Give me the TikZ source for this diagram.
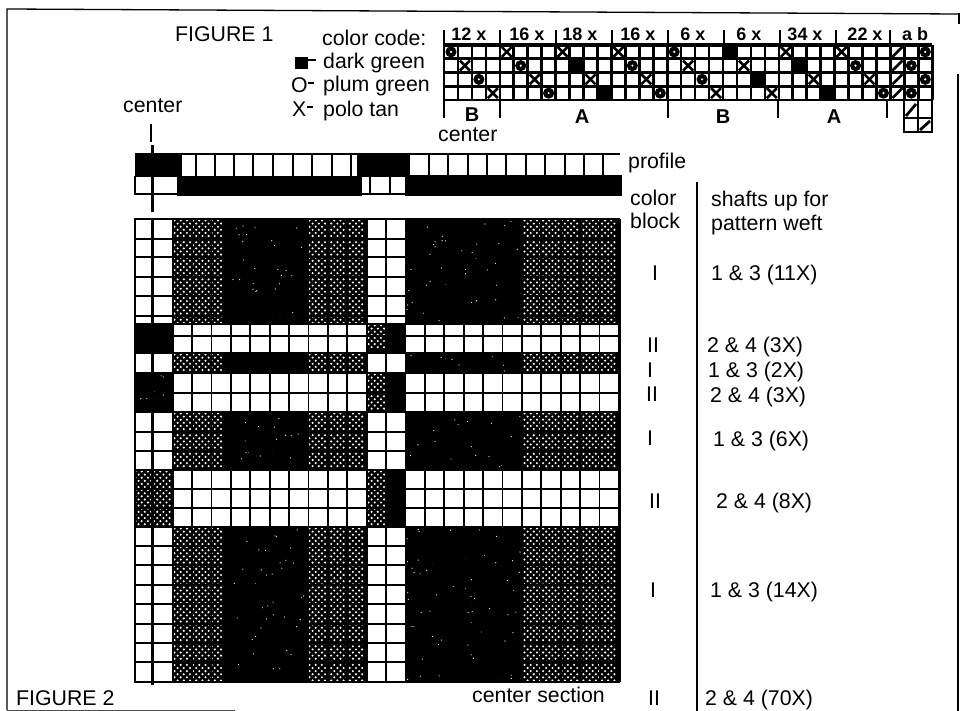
\documentclass[tikz,border=0pt]{standalone}
\usepackage{fontspec}
\setmainfont{Liberation Sans}
\newcommand\chk[4]{%
  \pgfmathsetmacro\xa{#1+1.5}\pgfmathsetmacro\xb{#1+7.7}\pgfmathsetmacro\xe{#3-4}%
  \pgfmathsetmacro\ya{#2+1.5}\pgfmathsetmacro\yb{#2+7.7}\pgfmathsetmacro\ye{#4-4}%
  \foreach\x in{\xa,\xb,...,\xe}{\foreach\y in{\ya,\yb,...,\ye}{%
    \fill[white](\x,\y)circle(1.15)(\x+3.1,\y+3.1)circle(1.15);}}}
\newcommand\specks[5]{%
  \foreach\i in{1,...,#5}{%
    \pgfmathsetmacro\sx{#1+rnd*(#3-#1)}\pgfmathsetmacro\sy{#2+rnd*(#4-#2)}%
    \fill[white](\sx,\sy)circle(.6);}}
\newcommand\cx[1]{444+13.95*(#1-.5)}
\newcommand\cy[1]{45+13.75*(#1-.5)}
\tikzset{
  lbl/.style={anchor=base west,inner sep=0pt,font=\fontsize{21.3}{24}\selectfont},
  smalllbl/.style={anchor=base,inner sep=0pt,font=\bfseries\fontsize{18}{20}\selectfont},
  biglbl/.style={anchor=base,inner sep=0pt,font=\bfseries\fontsize{20}{22}\selectfont},
  gridln/.style={line width=1.8pt,black},
  topgrid/.style={line width=2.6pt,black},
  tick/.style={line width=2.4pt,black},
  frameln/.style={line width=1.3pt,black}
}
\begin{document}
\begin{tikzpicture}[x=1pt,y=-1pt]
\useasboundingbox (0,0) rectangle (966,711);
\fill[white] (0,0) rectangle (966,711);
% frame
\draw[frameln] (7,710) -- (7,9) -- (958,14);
\draw[line width=1.6pt] (959,13) -- (959,24);
\draw[line width=1.4pt] (958,74) -- (958,711);
\draw[line width=.8pt,black!70] (7,710) -- (235,710);
% top draft grid
\fill[black] (444,44) rectangle (890,47);
\foreach \c/\r in {1/1,3/3,6/2,8/4,14/2,16/4,17/1,19/3,30/2,32/4,34/2,34/4,35/1,35/3}{
  \fill[black] ({\cx{\c}},{\cy{\r}}) circle (5.6);
  \fill[white] ({\cx{\c}},{\cy{\r}}) circle (1.2);}
\foreach \c/\r in {10/2,12/4,21/1,23/3,26/2,28/4}{
  \fill[black] ({\cx{\c}-7},{\cy{\r}-6.9}) rectangle ({\cx{\c}+7},{\cy{\r}+6.9});}
\foreach \c/\r in {2/2,4/4,5/1,7/3,9/1,11/3,13/1,15/3,18/2,20/4,22/2,24/4,25/1,27/3,29/1,31/3}{
  \draw[line width=2.6pt] ({\cx{\c}-5},{\cy{\r}-5}) -- ({\cx{\c}+5},{\cy{\r}+5})
    ({\cx{\c}-5},{\cy{\r}+5}) -- ({\cx{\c}+5},{\cy{\r}-5});}
\foreach \r in {1,2,3,4}{
  \draw[line width=2.6pt] ({\cx{33}-5},{\cy{\r}+5}) -- ({\cx{33}+5},{\cy{\r}-5});}
\foreach \n in {0,...,35}{
  \draw[topgrid] ({444+13.95*\n},45) -- ({444+13.95*\n},100);}
\foreach \r in {0,...,4}{
  \draw[topgrid] (444,{45+13.75*\r}) -- (932,{45+13.75*\r});}
\draw[line width=3.4pt] (444,45) -- (932,45);
% tie-up extension
\draw[topgrid] (904,100) rectangle (932,132);
\draw[topgrid] (904,118) -- (932,118) (918,100) -- (918,132);
\draw[line width=2.8pt] (906,116) -- (916,104) (920,130) -- (930,121);
% section ticks
\foreach \x in {444,500,556,612,668,724,780,836,890}{
  \draw[tick] (\x,30) -- (\x,46);}
\foreach \x in {444,500,668,778,887}{
  \draw[tick] (\x,100) -- (\x,118);}
\node[smalllbl] (s1) at (469,41) {12 x};
\node[smalllbl] (s2) at (527,41) {16 x};
\node[smalllbl] (s3) at (580,41) {18 x};
\node[smalllbl] (s4) at (638,41) {16 x};
\node[smalllbl] (s5) at (693,41) {6 x};
\node[smalllbl] (s6) at (749,41) {6 x};
\node[smalllbl] (s7) at (805,41) {34 x};
\node[smalllbl] (s8) at (865,41) {22 x};
\node[smalllbl] (s9) at (915,41) {a b};
\node[biglbl] (b1) at (472,122) {B};
\node[biglbl] (a1) at (582,124) {A};
\node[biglbl] (b2) at (723,124) {B};
\node[biglbl] (a2) at (834,124) {A};
\node[lbl] (c1) at (438,142) {center};
% legend
\node[lbl] (fig1) at (175,42) {FIGURE 1};
\node[lbl] (code) at (322,46) {color code:};
\fill[black] (295,57) rectangle (308,69);
\draw[line width=1.3pt] (308,60) -- (316,60);
\node[lbl] (dg) at (323,69) {dark green};
\node[lbl] (om) at (291,93) {O};
\draw[line width=1.3pt] (308,83) -- (314,83);
\node[lbl] (pg) at (323,92) {plum green};
\node[lbl] (xm) at (292,117) {X};
\draw[line width=1.3pt] (307,107) -- (313,107);
\node[lbl] (pt) at (323,117) {polo tan};
\node[lbl] (c2) at (123,113) {center};
\draw[line width=2.2pt] (151,124) -- (151,142);
% profile
\foreach \x in {196,215,234,253,273,293,312,332,351,429,448,468,487,506,526,545,565,584,603}{
  \draw[gridln] (\x,154) -- (\x,176);}
\draw[gridln] (135,154) -- (620,154);
\draw[gridln] (135,194) -- (622,194);
\draw[gridln] (152,176) -- (152,195) (370,176) -- (370,195) (390,176) -- (390,195) (135,176) -- (135,195);
\fill[black] (135,154) rectangle (182,177);
\fill[black] (357,154) rectangle (410,177);
\fill[black] (177,176) rectangle (362,196);
\fill[black] (405,175) rectangle (622,196);
% pattern blocks
\fill[black] (173,219) rectangle (367,324);
\fill[black] (405,219) rectangle (620,324);
\fill[black] (173,353) rectangle (367,373);
\fill[black] (405,353) rectangle (620,373);
\fill[black] (173,412) rectangle (367,470);
\fill[black] (405,412) rectangle (620,470);
\fill[black] (173,527) rectangle (367,682);
\fill[black] (405,527) rectangle (620,682);
\fill[black] (134,324) rectangle (173,353);
\fill[black] (134,373) rectangle (173,412);
\fill[black] (134,470) rectangle (173,527);
\fill[black] (367,324) rectangle (405,353);
\fill[black] (367,373) rectangle (405,412);
\fill[black] (367,470) rectangle (405,527);
\chk{173}{219}{228}{324}
\chk{308}{219}{367}{324}
\chk{523}{219}{620}{324}
\chk{173}{353}{228}{373}
\chk{308}{353}{367}{373}
\chk{523}{353}{620}{373}
\chk{173}{412}{228}{470}
\chk{308}{412}{367}{470}
\chk{523}{412}{620}{470}
\chk{173}{527}{228}{682}
\chk{308}{527}{367}{682}
\chk{523}{527}{620}{682}
\chk{134}{470}{173}{527}
\chk{367}{470}{386}{527}
\chk{367}{373}{386}{412}
\chk{367}{324}{386}{353}
\pgfmathsetseed{11}
\specks{230}{221}{306}{322}{28}
\specks{407}{221}{521}{322}{40}
\specks{230}{414}{306}{468}{16}
\specks{407}{414}{521}{468}{22}
\specks{230}{529}{306}{680}{45}
\specks{407}{529}{521}{680}{60}
\specks{136}{375}{171}{410}{8}
\specks{407}{355}{521}{371}{8}
% pattern grid
\foreach \n in {0,...,23}{
  \draw[gridln] ({172.6+19.4*\n},219) -- ({172.6+19.4*\n},682);}
\draw[gridln] (135,219) -- (135,682);
\draw[gridln] (620,219) -- (620,682);
\foreach \y in {219,239,257,277,296,316,324,336,353,373,393,412,432,451,470,489,508,527,546,565,585,604,624,643,662,682}{
  \draw[gridln] (134,\y) -- (620,\y);}
\draw[line width=3pt] (152,145) -- (152,212);
\draw[line width=3pt] (152,219) -- (152,685);
% right-hand text
\node[lbl] (prof) at (628,169) {profile};
\node[lbl] (colr) at (630,206) {color};
\node[lbl] (blk) at (630,229) {block};
\draw[line width=2pt] (697,182) -- (697,711);
\node[lbl] (sh1) at (711,207) {shafts up for};
\node[lbl] (sh2) at (711,231) {pattern weft};
\node[lbl] (r1) at (652,280) {I};
\node[lbl] (t1) at (711,280) {1 \& 3 (11X)};
\node[lbl] (r2) at (647,352) {II};
\node[lbl] (t2) at (707,352) {2 \& 4 (3X)};
\node[lbl] (r3) at (647,377) {I};
\node[lbl] (t3) at (708,377) {1 \& 3 (2X)};
\node[lbl] (r4) at (646,401) {II};
\node[lbl] (t4) at (710,402) {2 \& 4 (3X)};
\node[lbl] (r5) at (647,445) {I};
\node[lbl] (t5) at (713,446) {1 \& 3 (6X)};
\node[lbl] (r6) at (649,508) {II};
\node[lbl] (t6) at (716,508) {2 \& 4 (8X)};
\node[lbl] (r7) at (650,597) {I};
\node[lbl] (t7) at (710,597) {1 \& 3 (14X)};
\node[lbl] (r8) at (648,705) {II};
\node[lbl] (t8) at (705,705) {2 \& 4 (70X)};
\node[lbl] (cs) at (472,702) {center section};
\node[lbl] (fig2) at (16,705) {FIGURE 2};
\end{tikzpicture}
\end{document}
